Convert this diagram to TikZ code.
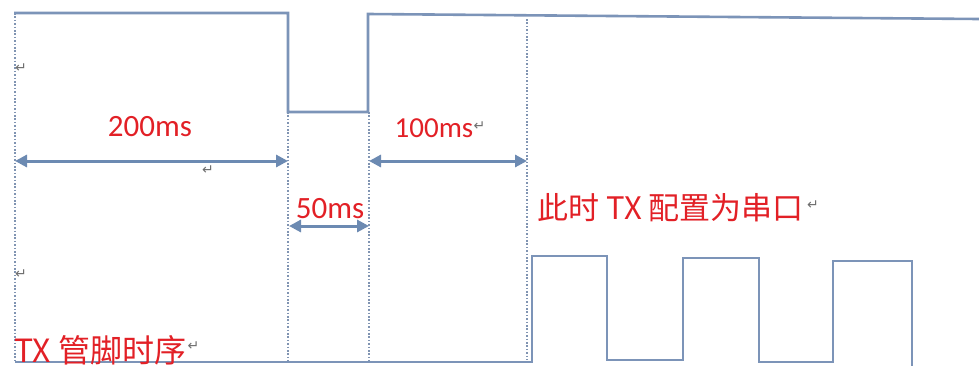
\documentclass[tikz,border=0pt]{standalone}
\usepackage{fontspec}
\setmainfont{Carlito}
\newfontfamily\cjkfont{Noto Sans CJK SC}
\newfontfamily\symfont{DejaVu Sans}
\usetikzlibrary{arrows.meta}
\definecolor{wave}{RGB}{124,148,184}
\definecolor{dim}{RGB}{108,138,178}
\definecolor{guide}{RGB}{128,148,178}
\definecolor{lbl}{RGB}{226,32,38}
\definecolor{mark}{RGB}{110,110,110}
\tikzset{
  waveline/.style={draw=wave, line width=2.6pt, line join=miter},
  guideline/.style={draw=guide, line width=2pt, dash pattern=on 1.6pt off 1.8pt},
  dimarrow/.style={draw=dim, line width=3pt, {Triangle[length=12pt,width=12pt]}-{Triangle[length=12pt,width=12pt]}, shorten <=0pt, shorten >=0pt},
  mslabel/.style={text=lbl, inner sep=0pt, font=\fontsize{31}{31}\selectfont},
  cjklabel/.style={text=lbl, inner sep=0pt, anchor=west, font=\cjkfont\fontsize{31}{31}\selectfont},
  retmark/.style={text=mark, inner sep=0pt, font=\symfont\fontsize{14}{14}\selectfont}
}
\begin{document}
\begin{tikzpicture}[x=1pt,y=-1pt]
\useasboundingbox (0,0) rectangle (979,365);
% guide coordinates
\coordinate (g0t) at (15,13);   \coordinate (g0b) at (15,362);
\coordinate (g1t) at (288,112); \coordinate (g1b) at (288,362);
\coordinate (g2t) at (369,112); \coordinate (g2b) at (369,362);
\coordinate (g3t) at (527,19);  \coordinate (g3b) at (527,360);
% dotted guides
\draw[guideline] (g0t) -- (g0b);
\draw[guideline] (g1t) -- (g1b);
\draw[guideline] (g2t) -- (g2b);
\draw[guideline] (g3t) -- (g3b);
% top waveform
\draw[waveline] (14,13) -- (288,13) -- (288,112) -- (368,112) -- (368,14) -- (979,19);
% bottom waveform
\draw[waveline] (15,362) -- (532,362) -- (532,256) -- (607,256) -- (607,360)
  -- (683,360) -- (683,258) -- (759,258) -- (759,362) -- (833,362)
  -- (833,261) -- (912,261) -- (912,366);
% dimension arrows
\coordinate (a200l) at (15,161);  \coordinate (a200r) at (288,161);
\coordinate (a50l) at (289,226);  \coordinate (a50r) at (369,226);
\coordinate (a100l) at (369,161); \coordinate (a100r) at (527,161);
\draw[dimarrow] (a200l) -- (a200r);
\draw[dimarrow] (a50l) -- (a50r);
\draw[dimarrow] (a100l) -- (a100r);
% labels
\node[mslabel] (l200) at (150,127) {200ms};
\node[mslabel] (l50) at (330,209) {50ms};
\node[mslabel, font=\fontsize{29}{29}\selectfont] (l100) at (434,128) {100ms};
\node[retmark, anchor=west] (r100) at ([yshift=2pt]l100.east) {↵};
\node[cjklabel] (lser) at (537,208) {此时 TX 配置为串口};
\node[retmark, anchor=west] (rser) at ([xshift=3pt,yshift=3pt]lser.east) {↵};
\node[cjklabel, font=\cjkfont\fontsize{32}{32}\selectfont] (ltx) at (14,350) {TX 管脚时序};
\node[retmark, anchor=west] (rtx) at ([xshift=1pt,yshift=4pt]ltx.east) {↵};
% stray paragraph marks
\node[retmark] (m1) at (21,68) {↵};
\node[retmark] (m2) at (208,170) {↵};
\node[retmark] (m3) at (21,274) {↵};
\end{tikzpicture}
\end{document}
